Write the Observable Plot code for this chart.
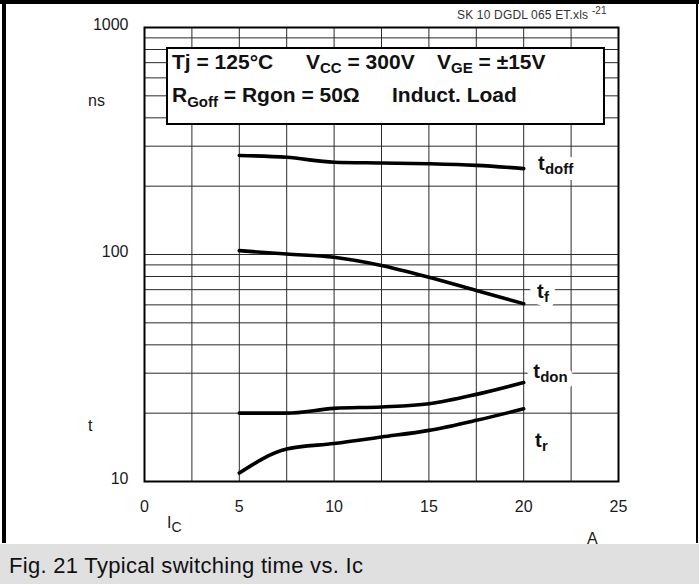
<!DOCTYPE html>
<html>
<head>
<meta charset="utf-8">
<script src="https://cdn.jsdelivr.net/npm/d3@7"></script>
<script src="https://cdn.jsdelivr.net/npm/@observablehq/plot@0.6"></script>
<style>
  body { margin: 0; background: #fff; font-family: "Liberation Sans", Arial, Helvetica, sans-serif; }
  #wrap { position: relative; width: 699px; height: 584px; overflow: hidden; background: #fff; }
  #chart { position: absolute; left: 0; top: 0; }
  #overlay { position: absolute; left: 0; top: 0; pointer-events: none; }
  #caption { position: absolute; left: 0; top: 544px; width: 699px; height: 40px; background: #e0e0e0;
             font-size: 22px; letter-spacing: 0.3px; line-height: 43px; padding-left: 9px; box-sizing: border-box; color: #111; }
</style>
</head>
<body>
<div id="wrap">
  <div id="chart"></div>
  <svg id="overlay" width="699" height="584" xmlns="http://www.w3.org/2000/svg"
       font-family="Liberation Sans, Arial, Helvetica, sans-serif">
    <!-- outer border -->
    <rect x="0" y="0" width="699" height="4" fill="#000"/>
    <rect x="2" y="0" width="4" height="543" fill="#000"/>
    <rect x="696" y="0" width="2" height="543" fill="#000"/>
    <!-- source note -->
    <text x="457" y="19" font-size="12" fill="#333" textLength="131" lengthAdjust="spacing">SK 10 DGDL 065 ET.xls</text>
    <text x="592" y="14" font-size="10" fill="#333">-21</text>
    <!-- condition box -->
    <rect x="167" y="48" width="437" height="76" fill="#fff" stroke="#000" stroke-width="2"/>
    <g font-weight="bold" font-size="21" fill="#111">
      <text x="172" y="69">Tj = 125°C</text>
      <text x="306" y="69">V<tspan font-size="15" dy="4">CC</tspan><tspan dy="-4"> = 300V</tspan></text>
      <text x="437" y="69">V<tspan font-size="15" dy="4">GE</tspan><tspan dy="-4"> = ±15V</tspan></text>
      <text x="172" y="102">R<tspan font-size="15" dy="5">Goff</tspan><tspan dy="-5"> = Rgon = 50Ω</tspan></text>
      <text x="392" y="102">Induct. Load</text>
    </g>
    <!-- axis unit labels -->
    <g font-size="16" fill="#1a1a1a">
      <text x="88" y="106">ns</text>
      <text x="88" y="431">t</text>
      <text x="167" y="528">I<tspan font-size="14" dy="4">C</tspan></text>
      <text x="587" y="544">A</text>
    </g>
  </svg>
  <div id="caption">Fig. 21 Typical switching time vs. Ic</div>
</div>
<script>
// ---- data ----
const currents = [5, 7.5, 10, 12.5, 15, 17.5, 20];      // I_C in A
const tdoff    = [273, 268, 255, 253, 251, 247, 239];    // ns
const tf       = [104, 100.5, 97.3, 89.5, 79.4, 69.4, 60.7];
const tdon     = [20, 20, 21, 21.3, 22, 24.2, 27.3];
const tr       = [10.9, 13.9, 14.7, 15.7, 16.8, 18.6, 20.9];

const seriesNames = ["doff", "f", "don", "r"];
const labelX = [20.75, 20.7, 20.5, 20.6];
const labelY = [252, 68.7, 30.5, 15.2];

const xTicks = [0, 5, 10, 15, 20, 25];
const yTicks = [10, 100, 1000];
const xGrid = [2.5, 5, 7.5, 10, 12.5, 15, 17.5, 20, 22.5];
const yGrid = [20, 30, 40, 50, 60, 70, 80, 90, 100, 200, 300, 400, 500, 600, 700, 800, 900];

// ---- build tables ----
const seriesValues = [tdoff, tf, tdon, tr];
const rows = [];
seriesValues.forEach((vals, i) => vals.forEach((v, j) => rows.push({series: seriesNames[i], x: currents[j], y: v})));
const labels = seriesNames.map((n, i) => ({name: n, x: labelX[i], y: labelY[i]}));

const font = "Liberation Sans, Arial, Helvetica, sans-serif";
const chart = Plot.plot({
  width: 699,
  height: 544,
  marginLeft: 144,
  marginRight: 81,
  marginTop: 27,
  marginBottom: 63,
  x: {domain: [0, 25]},
  y: {type: "log", domain: [10, 1000]},
  style: {fontFamily: font, background: "transparent", color: "#1a1a1a"},
  marks: [
    Plot.gridX(xGrid, {stroke: "#2a2a2a", strokeOpacity: 1, strokeWidth: 1}),
    Plot.gridY(yGrid, {stroke: "#2a2a2a", strokeOpacity: 1, strokeWidth: 1}),
    Plot.frame({stroke: "#000", strokeWidth: 2}),
    Plot.axisX(xTicks, {tickSize: 0, tickPadding: 19, fontSize: 16, label: null}),
    Plot.axisY(yTicks, {tickSize: 0, tickPadding: 16, fontSize: 16, label: null, dy: -3, tickFormat: d => String(d)}),
    Plot.line(rows, {x: "x", y: "y", z: "series", stroke: "#000", strokeWidth: 3.6, curve: "monotone-x"}),
    // halos behind labels
    Plot.text(labels, {x: "x", y: "y", text: () => "t", textAnchor: "start", fontSize: 20, fontWeight: "bold",
                       fill: "white", stroke: "white", strokeWidth: 14}),
    Plot.text(labels, {x: "x", y: "y", text: "name", textAnchor: "start", dx: 7, dy: 6, fontSize: 15, fontWeight: "bold",
                       fill: "white", stroke: "white", strokeWidth: 12}),
    // labels
    Plot.text(labels, {x: "x", y: "y", text: () => "t", textAnchor: "start", fontSize: 20, fontWeight: "bold", fill: "#111"}),
    Plot.text(labels, {x: "x", y: "y", text: "name", textAnchor: "start", dx: 7, dy: 6, fontSize: 15, fontWeight: "bold", fill: "#111"})
  ]
});
document.getElementById("chart").appendChild(chart);
</script>
</body>
</html>
